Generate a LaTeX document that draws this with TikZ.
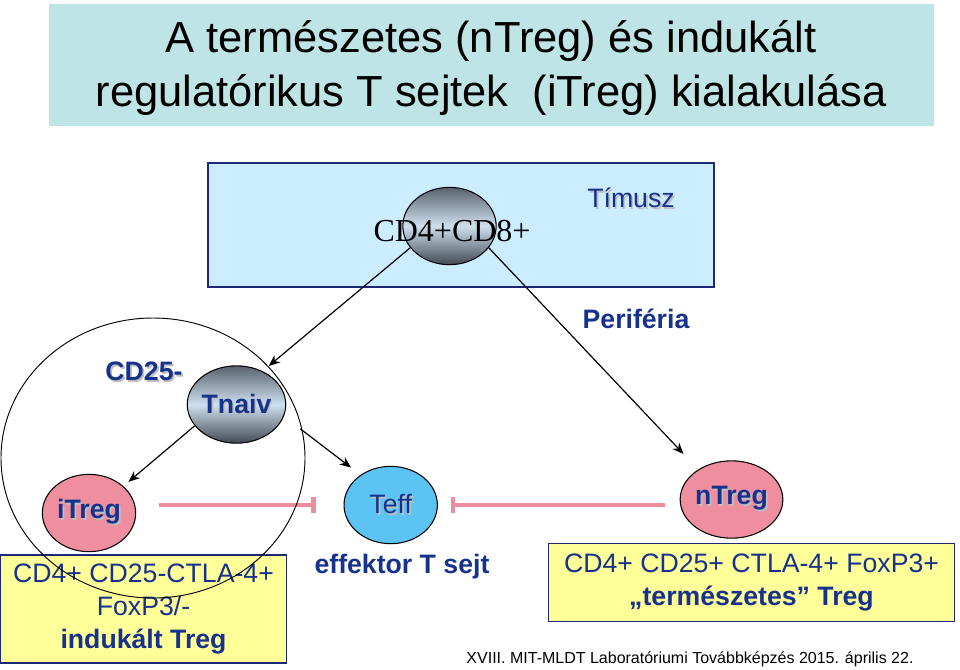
\documentclass[tikz,border=0pt]{standalone}
\usepackage{fontspec}
\setmainfont{Liberation Sans}
\newfontfamily\serifcd{Liberation Serif}
\usepackage{xcolor}
\usepackage{tikz}
\usetikzlibrary{arrows.meta,shapes.geometric}
\definecolor{tgtitle}{RGB}{190, 228, 230}
\definecolor{tgthymus}{RGB}{204, 236, 255}
\definecolor{tgnavy}{RGB}{22, 50, 140}
\definecolor{tgframe}{RGB}{30, 40, 120}
\definecolor{tgpink}{RGB}{238, 142, 158}
\definecolor{tgline}{RGB}{236, 140, 156}
\definecolor{tgcyan}{RGB}{92, 196, 245}
\definecolor{tgyellow}{RGB}{255, 255, 153}
\definecolor{tgdark}{RGB}{88, 98, 110}
\definecolor{tglight}{RGB}{206, 224, 238}
\newcommand{\shadowtext}[1]{\makebox[0pt][l]{\hspace{1.3pt}\raisebox{-1.3pt}{\textcolor{gray!50}{#1}}}#1}
\tikzset{
  cell/.style={ellipse, draw=black, line width=0.8pt, inner sep=0pt,
    minimum width=70pt, minimum height=58pt, text=tgnavy,
    font=\fontsize{20}{24}\selectfont\bfseries},
  greycell/.style={cell, top color=tgdark, bottom color=tgdark!75!black, middle color=tglight},
  pathway/.style={-{Stealth[length=8.5pt,width=7pt]}, line width=0.9pt},
  suppress/.style={-{Bar[width=11.5pt]}, tgline, line width=3.6pt},
  markerbox/.style={draw=tgframe, line width=0.9pt, fill=tgyellow, inner sep=0pt,
    text=tgnavy, align=center, font=\fontsize{20}{24.75}\selectfont},
  tglabel/.style={text=tgnavy, font=\fontsize{20}{24}\selectfont}
}
\begin{document}
\begin{tikzpicture}[x=0.75pt, y=-0.75pt]
    \fill[white] (0,0) rectangle (960,669);
    \useasboundingbox (0,0) rectangle (960,669);

    % Cim
    \fill[tgtitle] (49,4) rectangle (934,126);
    \node[font=\fontsize{32.6}{40}\selectfont, align=center] (title) at (491,68)
      {A természetes (nTreg) és indukált\\regulatórikus T sejtek\ \ (iTreg) kialakulása};

    % Timusz
    \draw[tgframe, fill=tgthymus, line width=0.9pt] (208,163) rectangle (714,287);
    \node[greycell] (cd48) at (449.5,226) {};
    \node[font=\serifcd\fontsize{24}{27}\selectfont] (cd48txt) at (452,231) {CD4+CD8+};
    \node[tglabel] (thymuslbl) at (631,199) {\shadowtext{Tímusz}};
    \node[tglabel, font=\fontsize{20}{24}\selectfont\bfseries] (periphery) at (636,319) {Periféria};

    % CD25- sejtek
    \node[tglabel, font=\fontsize{20}{24}\selectfont\bfseries] (cd25) at (144,372) {\shadowtext{CD25-}};
    \node[greycell] (tnaiv) at (236.5,404.5) {\shadowtext{Tnaiv}};

    % Effektor es regulator sejtek
    \node[cell, fill=tgpink] (itreg) at (89,513) {\shadowtext{iTreg}};
    \node[cell, fill=tgcyan, font=\fontsize{20}{24}\selectfont] (teff) at (390.7,505) {\shadowtext{Teff}};
    \node[cell, fill=tgpink] (ntreg) at (731.5,499.5) {\shadowtext{nTreg}};

    % Differencialodas
    \draw[pathway, shorten >=6pt] (cd48.209) -- (tnaiv.52);
    \draw[pathway, shorten >=16pt] (cd48.331) -- (ntreg.138);
    \draw[pathway, shorten >=5pt] (tnaiv.207) -- (itreg.38);
    \draw[pathway, shorten <=15.5pt, shorten >=9pt] (tnaiv.346) -- (teff.135);

    % Gatlas
    \draw[suppress, shorten <=17pt, shorten >=21pt] (itreg.east |- teff.center) -- (teff.west);
    \draw[suppress, shorten <=11pt, shorten >=9.5pt] (ntreg.west |- teff.center) -- (teff.east);

    % Markerek
    \node[markerbox, minimum width=215pt, minimum height=81pt] (ibox) at (143.5,609)
      {CD4+ CD25-CTLA-4+\\FoxP3/-\\\textbf{indukált Treg}};
    \node[tglabel, font=\fontsize{20}{24}\selectfont\bfseries] (efftxt) at (402,567) {effektor T sejt};
    \node[markerbox, minimum width=304pt, minimum height=58pt] (nbox) at (751.5,582.5)
      {CD4+ CD25+ CTLA-4+ FoxP3+\\\textbf{„természetes” Treg}};

    % CD25- kor a tobbi folott
    \draw[line width=0.7pt] (153,458) ellipse [x radius=152, y radius=140];

    % Lablec
    \node[font=\fontsize{12}{14}\selectfont] (footer) at (690,659)
      {XVIII. MIT-MLDT Laboratóriumi Továbbképzés 2015. április 22.};
\end{tikzpicture}
\end{document}
